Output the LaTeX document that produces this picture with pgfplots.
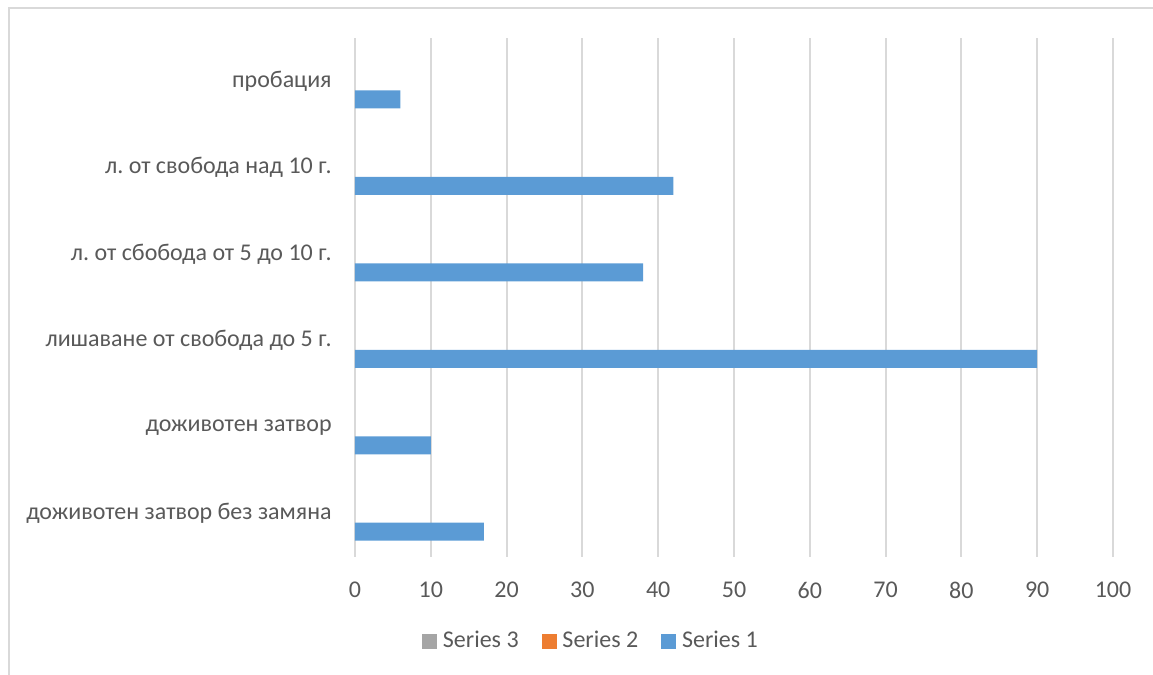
\documentclass[border=0pt]{standalone}
\usepackage{pgfplots}
\pgfplotsset{compat=1.18}
\usepackage{fontspec}
\setmainfont{Carlito}
\frenchspacing
\definecolor{sone}{HTML}{5B9BD5}
\definecolor{stwo}{HTML}{ED7D31}
\definecolor{sthree}{HTML}{A5A5A5}
\definecolor{gridc}{HTML}{D9D9D9}
\definecolor{txt}{HTML}{595959}
\begin{document}
\begin{tikzpicture}
\useasboundingbox (0,0) rectangle (576.5pt,337.5pt);
\draw[color=gridc, line width=0.75pt] (4.5pt,0pt) -- (4.5pt,333.5pt) -- (576.5pt,333.5pt);
\begin{axis}[
  at={(177.5pt,59pt)}, anchor=south west,
  scale only axis, width=379pt, height=259.5pt,
  xmin=0, xmax=100, ymin=-0.5, ymax=5.5,
  xtick={0,10,...,100}, ytick={0,1,2,3,4,5},
  yticklabels={доживотен затвор без замяна, доживотен затвор\ , лишаване от свобода до 5 г., л. от сбобода от 5 до 10 г.\ , л. от свобода над 10 г., пробация},
  axis line style={draw=none},
  major tick length=0pt,
  xmajorgrids, grid style={color=gridc, line width=1pt},
  tick label style={font=\fontsize{12}{14}\selectfont\frenchspacing, text=txt},
  /pgf/number format/assume math mode=true,
  xticklabel style={anchor=north, inner sep=0pt, yshift=-12.5pt},
  yticklabel style={anchor=east, inner sep=0pt, xshift=-11.5pt},
  xbar, bar width=9pt,
  legend columns=3,
  legend style={draw=none, fill=none, at={(0.31,-0.162)}, anchor=center,
    font=\fontsize{12}{14}\selectfont, text=txt,
    nodes={inner sep=0pt},
    /tikz/every odd column/.append style={column sep=3pt},
    /tikz/every even column/.append style={column sep=11.5pt}},
  legend cell align=left,
]
\addlegendimage{legend image code/.code={\fill[sthree] (0pt,-3.5pt) rectangle (7pt,3.5pt);}}
\addlegendentry{Series 3}
\addlegendimage{legend image code/.code={\fill[stwo] (0pt,-3.5pt) rectangle (7pt,3.5pt);}}
\addlegendentry{Series 2}
\addlegendimage{legend image code/.code={\fill[sone] (0pt,-3.5pt) rectangle (7pt,3.5pt);}}
\addlegendentry{Series 1}
\addplot[fill=sone, draw=none, bar shift=-9pt, forget plot] coordinates {(17,0) (10,1) (90,2) (38,3) (42,4) (6,5)};
\end{axis}
\end{tikzpicture}
\end{document}
